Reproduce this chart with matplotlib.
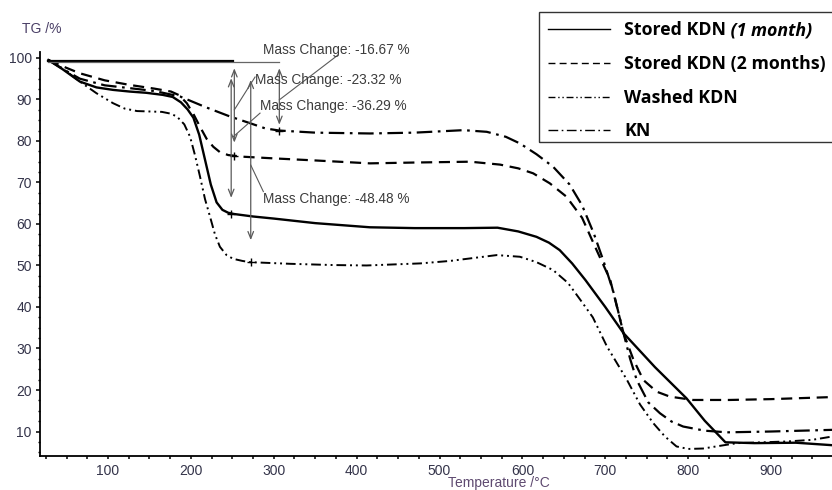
import matplotlib
matplotlib.use("Agg")
import matplotlib.pyplot as plt
from matplotlib.lines import Line2D
from matplotlib.patches import Rectangle
from matplotlib.ticker import MultipleLocator

plt.rcParams['font.family'] = ['Liberation Sans', 'DejaVu Sans']

# ---------------------------------------------------------------------------
# Data (temperature in degC, mass in %)
# ---------------------------------------------------------------------------

kdn1_T = [28, 45, 66, 86, 106, 126, 146, 166, 178, 188, 196, 203, 210, 217, 224, 231,
          238, 245, 252, 275, 300, 350, 416, 470, 530, 570, 595, 617, 632, 645, 660,
          676, 700, 722, 760, 798, 820, 845, 880, 930, 974]
kdn1_m = [99.5, 97.3, 94.3, 92.9, 92.3, 91.9, 91.6, 91.1, 90.6, 89.3, 87.6, 85.6, 81.5,
          75.5, 69.5, 65.2, 63.4, 62.7, 62.4, 61.8, 61.3, 60.2, 59.2, 59.0, 59.0, 59.1,
          58.2, 56.9, 55.5, 53.7, 50.5, 46.5, 40.0, 33.7, 25.5, 18.0, 12.6, 7.4, 7.2,
          7.3, 6.7]

kdn2_T = [28, 45, 66, 96, 126, 156, 176, 186, 195, 203, 211, 219, 227, 235, 245, 263,
          300, 350, 416, 470, 537, 573, 595, 613, 633, 653, 672, 690, 706, 722, 734,
          746, 762, 778, 806, 850, 900, 974]
kdn2_m = [99.5, 98.0, 96.3, 94.6, 93.5, 92.6, 91.9, 91.0, 89.1, 86.5, 83.4, 80.5, 78.6,
          77.3, 76.6, 76.2, 75.8, 75.3, 74.6, 74.8, 75.0, 74.3, 73.4, 72.2, 69.8, 66.6,
          61.5, 53.5, 46.5, 33.7, 27.3, 22.4, 19.6, 18.4, 17.6, 17.6, 17.8, 18.3]

washed_T = [28, 45, 66, 86, 106, 120, 135, 150, 165, 175, 183, 192, 199, 205, 211, 217,
            223, 229, 235, 243, 251, 262, 271, 320, 372, 412, 477, 513, 545, 569, 597,
            617, 637, 655, 670, 685, 702, 714, 726, 742, 758, 772, 786, 800, 818, 840,
            859, 890, 919, 950, 974]
washed_m = [99.5, 97.5, 94.3, 91.5, 89.1, 87.8, 87.2, 87.1, 87.0, 86.6, 85.9, 84.0, 81.0,
            76.5, 71.4, 66.0, 61.8, 57.5, 54.5, 52.5, 51.6, 51.1, 50.8, 50.4, 50.1, 50.0,
            50.5, 51.1, 51.9, 52.5, 52.1, 50.8, 48.9, 45.8, 41.7, 37.5, 30.5, 26.5, 22.5,
            16.5, 12.0, 8.8, 6.4, 5.8, 5.9, 6.6, 7.2, 7.4, 7.6, 8.0, 8.8]

kn_T = [28, 45, 66, 96, 127, 157, 187, 217, 247, 271, 290, 307, 350, 416, 470, 529, 557,
        580, 597, 617, 637, 657, 672, 686, 698, 710, 722, 730, 738, 752, 766, 780, 794,
        820, 847, 900, 974]
kn_m = [99.5, 97.4, 95.0, 93.4, 92.7, 92.0, 90.7, 88.2, 85.9, 84.3, 83.0, 82.5, 82.0,
        81.8, 82.0, 82.6, 82.2, 81.0, 79.4, 76.8, 73.8, 69.5, 64.5, 57.8, 51.0, 43.5,
        33.7, 27.5, 22.4, 17.0, 14.4, 12.4, 11.2, 10.2, 9.8, 10.0, 10.4]

# Mass change annotations: KN, KDN 2 months, KDN 1 month, washed KDN
mc_labels = ["Mass Change: -16.67 %", "Mass Change: -23.32 %",
             "Mass Change: -36.29 %", "Mass Change: -48.48 %"]
mc_arrow_T = [306.7, 252.4, 248.6, 272.2]
mc_arrow_top = [97.5, 97.5, 95.1, 94.7]
mc_arrow_bot = [83.9, 79.6, 66.3, 56.1]
mc_mark_m = [82.5, 76.4, 62.5, 50.8]
mc_text_T = [287.0, 277.4, 283.4, 287.0]
mc_text_m = [101.9, 94.7, 88.3, 66.0]
mc_lead_from = [(306.7, 89.9), (252.4, 87.5), (251.0, 81.0), (272.2, 74.2)]
mc_lead_to = [(377.5, 100.7), (277.4, 95.4), (283.4, 86.7), (287.4, 67.8)]

legend_names = ["Stored KDN", "Stored KDN (2 months)", "Washed KDN", "KN"]
legend_extra = " (1 month)"   # bold italic tail of the first entry

# line styles (solid, dashed, dash-dot-dot, dash-dot)
ls_kdn1 = '-'
ls_kdn2 = (0, (5, 3))
ls_washed = (0, (5, 2, 1, 2, 1, 2))
ls_kn = (0, (7, 2.5, 1.2, 2.5))

W, H = 832, 490


def fpx(x, y):
    """pixel position -> figure fraction"""
    return x / W, 1 - y / H


# ---------------------------------------------------------------------------
# Figure
# ---------------------------------------------------------------------------

fig = plt.figure(figsize=(W / 100, H / 100), dpi=100)
ax = fig.add_axes([40 / W, 34 / H, 792 / W, (456 - 51.7) / H])

ax.plot(kdn1_T, kdn1_m, color='black', lw=1.7, ls=ls_kdn1)
ax.plot(kdn2_T, kdn2_m, color='black', lw=1.6, ls=ls_kdn2)
ax.plot(washed_T, washed_m, color='black', lw=1.4, ls=ls_washed)
ax.plot(kn_T, kn_m, color='black', lw=1.6, ls=ls_kn)

# reference lines at start mass
ax.plot([kdn1_T[0], 251], [99.3, 99.3], color='black', lw=1.6)
ax.plot([kdn1_T[0], 306], [99.05, 99.05], color='#666666', lw=0.9)

grey = '#5a5a5a'
for T, top, bot, mm in zip(mc_arrow_T, mc_arrow_top, mc_arrow_bot, mc_mark_m):
    ax.annotate("", xy=(T, bot), xytext=(T, top),
                arrowprops=dict(arrowstyle='<->,head_length=0.5,head_width=0.2',
                                color=grey, lw=0.9, shrinkA=0, shrinkB=0))
    ax.plot([T], [mm], marker='+', ms=6, mew=1.0, color='black')

for (xa, ya), (xb, yb) in zip(mc_lead_from, mc_lead_to):
    ax.plot([xa, xb], [ya, yb], color=grey, lw=0.8, clip_on=False)

for lab, tx, ty in zip(mc_labels, mc_text_T, mc_text_m):
    ax.text(tx, ty, lab, fontsize=9.8, color='#3c3c3c', ha='left', va='center',
            clip_on=False)

ax.set_xlim(17.9, 973.6)
ax.set_ylim(4.1, 101.5)

for s in ['top', 'right']:
    ax.spines[s].set_visible(False)
for s in ['left', 'bottom']:
    ax.spines[s].set_linewidth(1.3)

ax.xaxis.set_major_locator(MultipleLocator(100))
ax.xaxis.set_minor_locator(MultipleLocator(25))
ax.yaxis.set_major_locator(MultipleLocator(10))
ax.yaxis.set_minor_locator(MultipleLocator(2.5))
ax.set_xticks(range(100, 1000, 100))
ax.set_yticks(range(10, 101, 10))
tick_col = '#34344a'
ax.tick_params(axis='x', which='both', direction='out', length=2.5, width=1.1,
               labelsize=10, labelcolor=tick_col, pad=3)
ax.tick_params(axis='y', which='major', direction='out', length=3, width=1.1,
               labelsize=10, labelcolor=tick_col, pad=3)
ax.tick_params(axis='y', which='minor', direction='out', length=1.5, width=1.0)

fig.text(*fpx(22, 29), "TG /%", fontsize=10, color='#4a3f66', ha='left', va='center')
fig.text(*fpx(499, 483), "Temperature /\u00b0C", fontsize=10, color='#5e4a70',
         ha='center', va='center')

# ---------------------------------------------------------------------------
# Legend (drawn by hand so the box runs off the right edge like the original)
# ---------------------------------------------------------------------------

bx0, by0 = fpx(538.5, 142)
bx1, by1 = fpx(845, 12)
fig.add_artist(Rectangle((bx0, by0), bx1 - bx0, by1 - by0, transform=fig.transFigure,
                         fill=False, edgecolor='#333333', lw=1.0))

row_y = [30, 64.5, 98, 131]
row_ls = [ls_kdn1, ls_kdn2, ls_washed, ls_kn]
leg_font = ['Open Sans', 'DejaVu Sans']
leg_size = 12.8
first = None
for name, yy, ls in zip(legend_names, row_y, row_ls):
    xa, ya = fpx(548, yy - 1)
    xb, _ = fpx(610, yy - 1)
    fig.add_artist(Line2D([xa, xb], [ya, ya], transform=fig.transFigure,
                          color='black', lw=1.0, ls=ls))
    t = fig.text(*fpx(624, yy), name, fontsize=leg_size, fontweight='bold',
                 family=leg_font, ha='left', va='center')
    if first is None:
        first = t

# italic tail placed right after the first entry's text
ax.annotate(legend_extra, xy=(1, 0), xycoords=first, fontsize=leg_size,
            fontweight='bold', fontstyle='italic', family=leg_font,
            ha='left', va='bottom', annotation_clip=False)

fig.savefig("out.png", dpi=100)
